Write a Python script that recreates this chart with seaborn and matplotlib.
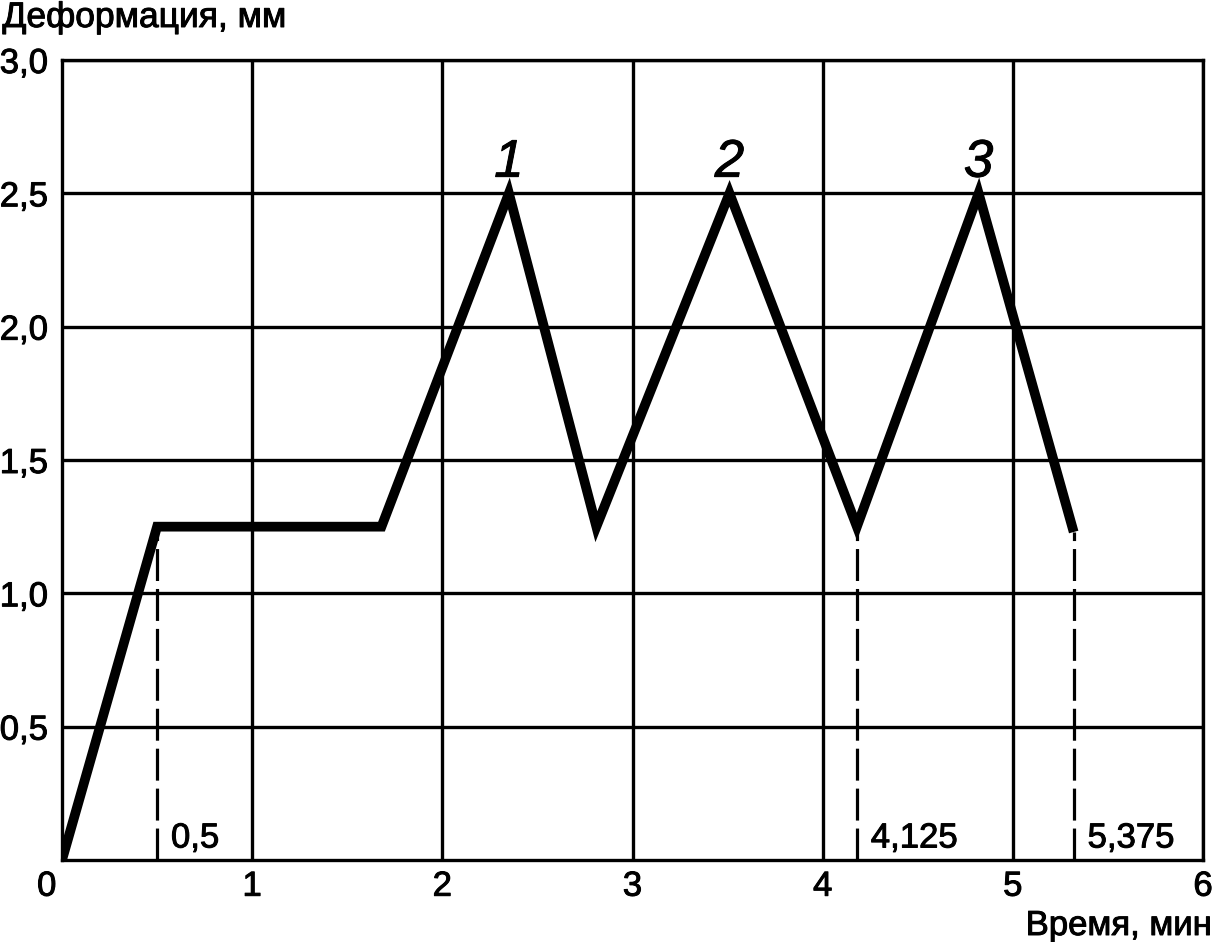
import matplotlib

matplotlib.use("Agg")
import matplotlib.patheffects as pe
import matplotlib.pyplot as plt
import pandas as pd
import seaborn as sns

# Loading curve
time_min = [0, 0.5, 1.68, 2.35, 2.81, 3.51, 4.18, 4.82, 5.32]
deformation_mm = [0, 1.25, 1.25, 2.5, 1.25, 2.5, 1.25, 2.5, 1.23]

# Cycle peaks
peak_time = [2.35, 3.51, 4.82]
peak_deform = [2.5, 2.5, 2.5]
peak_labels = ["1", "2", "3"]

# Dashed marker lines
mark_time = [0.5, 4.18, 5.32]
mark_deform = [1.25, 1.25, 1.23]
mark_labels = ["0,5", "4,125", "5,375"]

x_ticks = [1, 2, 3, 4, 5, 6]
x_tick_labels = ["1", "2", "3", "4", "5", "6"]
y_ticks = [0.5, 1.0, 1.5, 2.0, 2.5, 3.0]
y_tick_labels = ["0,5", "1,0", "1,5", "2,0", "2,5", "3,0"]


def main():
    sns.set_style("white")
    plt.rcParams["font.family"] = ["Liberation Sans", "DejaVu Sans"]
    plt.rcParams["text.color"] = "black"

    # slightly heavier glyphs, like the scanned original
    heavy = [pe.withStroke(linewidth=0.7, foreground="black")]

    W, H = 1213, 942
    fig = plt.figure(figsize=(W / 100, H / 100), dpi=100)
    ax = fig.add_axes([62 / W, 1 - 860 / H, (1203 - 62) / W, (860 - 60) / H])

    df = pd.DataFrame({"time": time_min, "deform": deformation_mm})
    sns.lineplot(
        data=df,
        x="time",
        y="deform",
        sort=False,
        color="black",
        linewidth=7,
        solid_joinstyle="miter",
        solid_capstyle="butt",
        zorder=5,
        ax=ax,
    )
    ax.vlines(mark_time, 0, mark_deform, colors="black", linewidth=2.3,
              linestyles=(0, (10, 2.5)), zorder=4)

    for x, y, lab in zip(peak_time, peak_deform, peak_labels):
        ax.annotate(lab, (x, y), xytext=(0, 12), textcoords="offset points",
                    ha="center", va="baseline", fontsize=38, style="italic",
                    color="black", path_effects=heavy)
    for x, lab in zip(mark_time, mark_labels):
        ax.annotate(lab, (x, 0), xytext=(10, 9), textcoords="offset points",
                    ha="left", va="baseline", fontsize=25, color="black",
                    path_effects=heavy)
    ax.annotate("0", (0, 0), xytext=(-4, -7), textcoords="offset points",
                ha="right", va="top", fontsize=25, color="black",
                path_effects=heavy)

    ax.set_xlim(0, 6)
    ax.set_ylim(0, 3)
    ax.set_xticks(x_ticks, x_tick_labels)
    ax.set_yticks(y_ticks, y_tick_labels)
    ax.tick_params(axis="both", length=0, labelsize=25, colors="black")
    ax.tick_params(axis="x", pad=7)
    ax.tick_params(axis="y", pad=10)
    for lab in ax.get_xticklabels() + ax.get_yticklabels():
        lab.set_path_effects(heavy)
    ax.grid(True, color="black", linewidth=2.4)
    for sp in ax.spines.values():
        sp.set_color("black")
        sp.set_linewidth(2.4)
    ax.set_xlabel("")
    ax.set_ylabel("")

    fig.text(0.002, 1 - 27 / H, "Деформация, мм", ha="left", va="baseline",
             fontsize=25.5, color="black", path_effects=heavy)
    fig.text(0.999, 1 - 935 / H, "Время, мин", ha="right", va="baseline",
             fontsize=25, color="black", path_effects=heavy)

    fig.savefig("out.png", dpi=100)


if __name__ == "__main__":
    main()
